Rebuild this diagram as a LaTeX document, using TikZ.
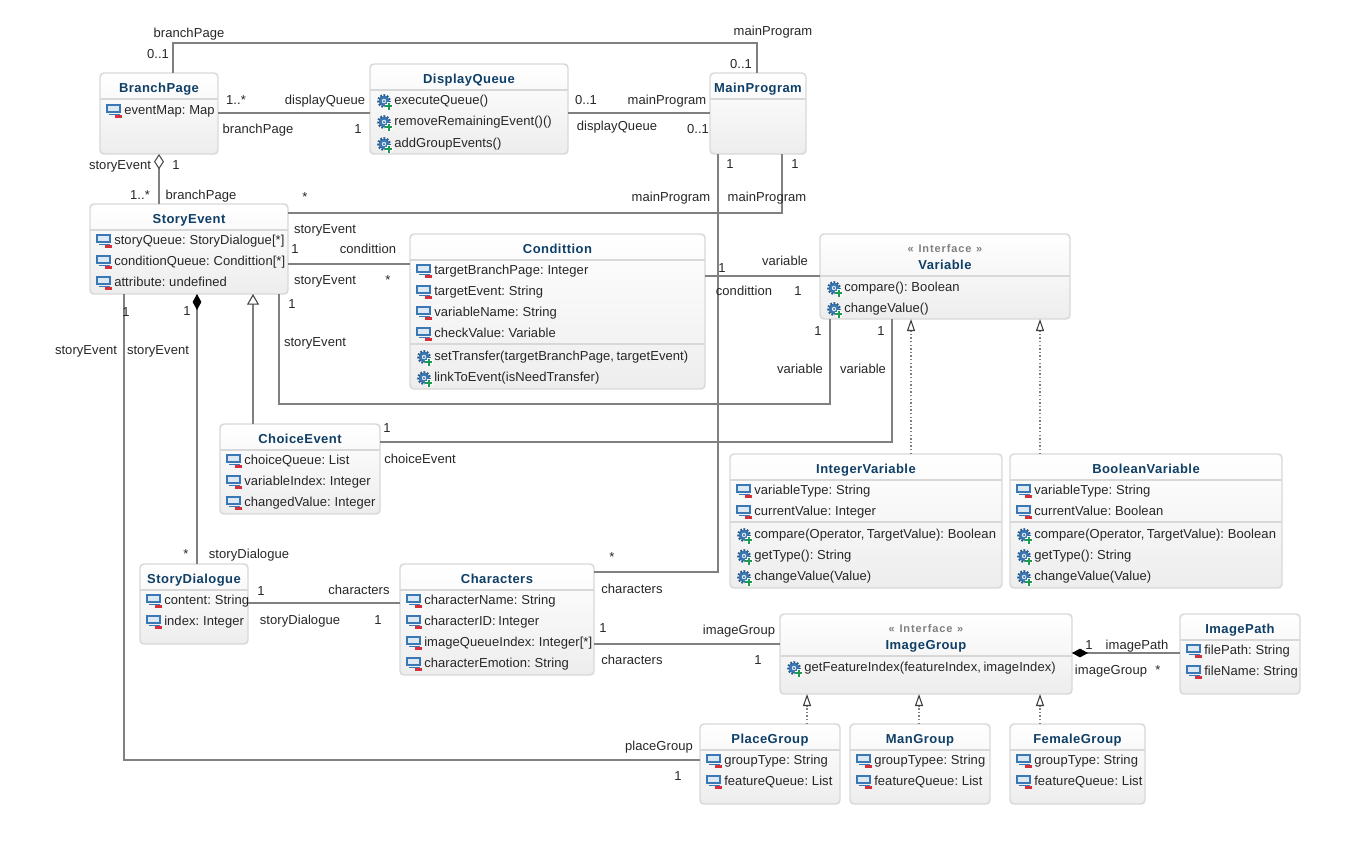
\documentclass[tikz,border=0pt]{standalone}
\usepackage{fontspec}
\setmainfont{Liberation Sans}[LetterSpace=0.5, WordSpace=0.7]
\usetikzlibrary{arrows.meta,calc}

\definecolor{boxline}{HTML}{D8D8D8}
\definecolor{boxlow}{HTML}{EDEDED}
\definecolor{wireline}{HTML}{808080}
\definecolor{titleblue}{HTML}{0F3F66}
\definecolor{iconblue}{HTML}{3A78B5}
\definecolor{iconpale}{HTML}{DCE9F5}
\definecolor{iconred}{HTML}{D8303A}
\definecolor{icongreen}{HTML}{1E9A50}

\tikzset{
    classbox/.style={draw=boxline, line width=1.1, rounded corners=3, top color=white, bottom color=boxlow, anchor=north west, inner sep=0, outer sep=0},
    classtitle/.style={font=\fontsize{9.75}{11}\selectfont\bfseries\addfontfeature{LetterSpace=3.5}, text=titleblue, anchor=base},
    stereotype/.style={font=\fontsize{8.25}{10}\selectfont\bfseries\addfontfeature{LetterSpace=8}, text=gray, anchor=base, yshift=-3.2pt},
    member/.style={font=\fontsize{9.75}{11}\selectfont, text=black!85, anchor=base west, inner sep=0, yshift=-3.2pt},
    lbl/.style={font=\fontsize{9.75}{11}\selectfont, text=black!85, anchor=base, inner sep=0, yshift=-3.4pt},
    divider/.style={draw=boxline, line width=1.1},
    wire/.style={draw=wireline, line width=1.5},
    realize/.style={draw=wireline, line width=0.9, dash pattern=on 1.1pt off 1.6pt},
    opendiamond/.tip={Diamond[fill=white, color=black!70, line width=0.8pt, length=11.5pt, width=7.5pt]},
    fulldiamond/.tip={Diamond[fill=black, color=black, line width=0.5pt, length=12pt, width=6.5pt]},
    bighead/.tip={Triangle[fill=white, color=black!75, line width=0.8pt, length=8pt, width=9pt]},
    thinhead/.tip={Triangle[fill=white, color=black!75, line width=0.8pt, length=9pt, width=6pt]},
    attricon/.pic={
        \draw[iconblue, line width=0.8, fill=iconpale] (-7,-5) rectangle (6,2);
        \draw[iconblue, line width=0.9] (-5,4.5) -- (6,4.5);
        \fill[iconred] (1,4.5) rectangle (8,7.5);
    },
    opicon/.pic={
        \fill[iconblue] (0,1) circle (5.5);
        \draw[iconblue!75!black, line width=1.5, dash pattern=on 1.3pt off 1.2pt] (0,1) circle (5.8);
        \fill[iconpale] (0,1) circle (2.2);
        \fill[iconblue!70!black] (0,1) circle (1);
        \draw[white, line width=3] (0.5,6) -- (8.5,6) (4.5,2) -- (4.5,10);
        \fill[icongreen] (1,5) rectangle (8,7);
        \fill[icongreen] (3.5,2.5) rectangle (5.5,9.5);
    }
}

% one class box with its title
\newcommand{\umlclass}[7][19]{
    \node[classbox, minimum width=#5*0.75pt, minimum height=#6*0.75pt] (#2) at (#3,#4) {};
    \node[classtitle] (#2Title) at ($(#2.north)+(0,#1)$) {#7};
}
\newcommand{\umlline}[2]{
    \draw[divider] (#1.west |- 0,#2) -- (#1.east |- 0,#2);
}
\newcommand{\umlattr}[5]{
    \pic at (#3-10,#4) {attricon};
    \node[member] (#1#2) at (#3,#4) {#5};
}
\newcommand{\umlop}[5]{
    \pic at (#3-10,#4) {opicon};
    \node[member] (#1#2) at (#3,#4) {#5};
}

\begin{document}
\begin{tikzpicture}[x=0.75pt, y=-0.75pt]
    \useasboundingbox (0,0) rectangle (1350,854);

    % class boxes
    \umlclass{branchPage}{100}{73}{118}{81}{BranchPage}
    \umlline{branchPage}{99}
    \umlattr{branchPage}{Map}{124}{110}{eventMap: Map}

    \umlclass{displayQueue}{370}{64}{198}{90}{DisplayQueue}
    \umlline{displayQueue}{90}
    \umlop{displayQueue}{Exec}{394}{100}{executeQueue()}
    \umlop{displayQueue}{Remove}{394}{121}{removeRemainingEvent()()}
    \umlop{displayQueue}{Add}{394}{143}{addGroupEvents()}

    \umlclass{mainProgram}{710}{73}{96}{81}{MainProgram}
    \umlline{mainProgram}{99}

    \umlclass{storyEvent}{90}{204}{198}{90}{StoryEvent}
    \umlline{storyEvent}{230}
    \umlattr{storyEvent}{Story}{114}{240}{storyQueue: StoryDialogue[*]}
    \umlattr{storyEvent}{Cond}{114}{261}{conditionQueue: Condittion[*]}
    \umlattr{storyEvent}{Attr}{114}{282}{attribute: undefined}

    \umlclass{condittion}{410}{234}{295}{155}{Condittion}
    \umlline{condittion}{260}
    \umlline{condittion}{344}
    \umlattr{condittion}{Page}{434}{270}{targetBranchPage: Integer}
    \umlattr{condittion}{Event}{434}{291}{targetEvent: String}
    \umlattr{condittion}{Name}{434}{312}{variableName: String}
    \umlattr{condittion}{Check}{434}{333}{checkValue: Variable}
    \umlop{condittion}{Set}{434}{356}{setTransfer(targetBranchPage, targetEvent)}
    \umlop{condittion}{Link}{434}{377}{linkToEvent(isNeedTransfer)}

    \umlclass[35]{variable}{820}{234}{250}{85}{Variable}
    \node[stereotype] (variableKind) at (945,248) {«\kern1.5pt{} Interface\kern1.5pt{} »};
    \umlline{variable}{276}
    \umlop{variable}{Compare}{844}{287}{compare(): Boolean}
    \umlop{variable}{Change}{844}{308}{changeValue()}

    \umlclass{choiceEvent}{220}{424}{160}{90}{ChoiceEvent}
    \umlline{choiceEvent}{450}
    \umlattr{choiceEvent}{Queue}{244}{460}{choiceQueue: List}
    \umlattr{choiceEvent}{Index}{244}{481}{variableIndex: Integer}
    \umlattr{choiceEvent}{Value}{244}{502}{changedValue: Integer}

    \umlclass{integerVar}{730}{454}{272}{134}{IntegerVariable}
    \umlline{integerVar}{480}
    \umlline{integerVar}{522}
    \umlattr{integerVar}{Type}{754}{490}{variableType: String}
    \umlattr{integerVar}{Value}{754}{511}{currentValue: Integer}
    \umlop{integerVar}{Compare}{754}{534}{compare(Operator, TargetValue): Boolean}
    \umlop{integerVar}{Get}{754}{555}{getType(): String}
    \umlop{integerVar}{Change}{754}{576}{changeValue(Value)}

    \umlclass{booleanVar}{1010}{454}{272}{134}{BooleanVariable}
    \umlline{booleanVar}{480}
    \umlline{booleanVar}{522}
    \umlattr{booleanVar}{Type}{1034}{490}{variableType: String}
    \umlattr{booleanVar}{Value}{1034}{511}{currentValue: Boolean}
    \umlop{booleanVar}{Compare}{1034}{534}{compare(Operator, TargetValue): Boolean}
    \umlop{booleanVar}{Get}{1034}{555}{getType(): String}
    \umlop{booleanVar}{Change}{1034}{576}{changeValue(Value)}

    \umlclass{storyDialogue}{140}{564}{108}{80}{StoryDialogue}
    \umlline{storyDialogue}{590}
    \umlattr{storyDialogue}{Content}{164}{600}{content: String}
    \umlattr{storyDialogue}{Index}{164}{621}{index: Integer}

    \umlclass{characters}{400}{564}{194}{111}{Characters}
    \umlline{characters}{590}
    \umlattr{characters}{Name}{424}{600}{characterName: String}
    \umlattr{characters}{Id}{424}{621}{characterID: Integer}
    \umlattr{characters}{Queue}{424}{642}{imageQueueIndex: Integer[*]}
    \umlattr{characters}{Emotion}{424}{663}{characterEmotion: String}

    \umlclass[35]{imageGroup}{780}{614}{292}{80}{ImageGroup}
    \node[stereotype] (imageGroupKind) at (926,628) {«\kern1.5pt{} Interface\kern1.5pt{} »};
    \umlline{imageGroup}{656}
    \umlop{imageGroup}{Get}{804}{667}{getFeatureIndex(featureIndex, imageIndex)}

    \umlclass{imagePath}{1180}{614}{120}{80}{ImagePath}
    \umlline{imagePath}{640}
    \umlattr{imagePath}{File}{1204}{650}{filePath: String}
    \umlattr{imagePath}{Name}{1204}{671}{fileName: String}

    \umlclass{placeGroup}{700}{724}{140}{80}{PlaceGroup}
    \umlline{placeGroup}{750}
    \umlattr{placeGroup}{Type}{724}{760}{groupType: String}
    \umlattr{placeGroup}{Queue}{724}{781}{featureQueue: List}

    \umlclass{manGroup}{850}{724}{140}{80}{ManGroup}
    \umlline{manGroup}{750}
    \umlattr{manGroup}{Type}{874}{760}{groupTypee: String}
    \umlattr{manGroup}{Queue}{874}{781}{featureQueue: List}

    \umlclass{femaleGroup}{1010}{724}{135}{80}{FemaleGroup}
    \umlline{femaleGroup}{750}
    \umlattr{femaleGroup}{Type}{1034}{760}{groupType: String}
    \umlattr{femaleGroup}{Queue}{1034}{781}{featureQueue: List}

    % associations
    \coordinate (topBend) at (757,43);
    \coordinate (lowBend) at (830,404);
    \draw[wire] (branchPage.north -| 173,0) |- (topBend) -- (mainProgram.north -| 757,0);
    \draw[wire] (branchPage.east |- 0,113) -- (displayQueue.west |- 0,113);
    \draw[wire] (displayQueue.east |- 0,113) -- (mainProgram.west |- 0,113);
    \draw[wire, {opendiamond}-] (branchPage.south -| 159,0) -- (storyEvent.north -| 159,0);
    \draw[wire] (storyEvent.east |- 0,213) -| (mainProgram.south -| 782,0);
    \draw[wire] (storyEvent.east |- 0,264) -- (condittion.west |- 0,264);
    \draw[wire] (condittion.east |- 0,276) -- (variable.west |- 0,276);
    \draw[wire] (mainProgram.south -| 718,0) |- (characters.east |- 0,572);
    \draw[wire] (storyEvent.south -| 279,0) |- (lowBend) -- (variable.south -| 830,0);
    \draw[wire] (choiceEvent.east |- 0,442) -| (variable.south -| 892,0);
    \draw[wire, {fulldiamond}-] (storyEvent.south -| 197,0) -- (storyDialogue.north -| 197,0);
    \draw[wire] (storyEvent.south -| 124,0) |- (placeGroup.west |- 0,760);
    \draw[wire, -{bighead}] (choiceEvent.north -| 253,0) -- (storyEvent.south -| 253,0);
    \draw[wire] (storyDialogue.east |- 0,603) -- (characters.west |- 0,603);
    \draw[wire] (characters.east |- 0,644) -- (imageGroup.west |- 0,644);
    \draw[wire, {fulldiamond}-] (imageGroup.east |- 0,653) -- (imagePath.west |- 0,653);

    % realizations
    \draw[realize, -{thinhead}] (integerVar.north -| 911,0) -- (variable.south -| 911,0);
    \draw[realize, -{thinhead}] (booleanVar.north -| 1040,0) -- (variable.south -| 1040,0);
    \draw[realize, -{thinhead}] (placeGroup.north -| 807,0) -- (imageGroup.south -| 807,0);
    \draw[realize, -{thinhead}] (manGroup.north -| 919,0) -- (imageGroup.south -| 919,0);
    \draw[realize, -{thinhead}] (femaleGroup.north -| 1040,0) -- (imageGroup.south -| 1040,0);

    % end labels
    \node[lbl] (l01) at (189,33) {branchPage};
    \node[lbl] (l02) at (158,54) {0..1};
    \node[lbl] (l03) at (773,31) {mainProgram};
    \node[lbl] (l04) at (741,64) {0..1};
    \node[lbl] (l05) at (236,100) {1..*};
    \node[lbl] (l06) at (325,100) {displayQueue};
    \node[lbl] (l07) at (258,129) {branchPage};
    \node[lbl] (l08) at (358,129) {1};
    \node[lbl] (l09) at (586,100) {0..1};
    \node[lbl] (l10) at (667,100) {mainProgram};
    \node[lbl] (l11) at (617,126) {displayQueue};
    \node[lbl] (l12) at (698,129) {0..1};
    \node[lbl] (l13) at (120,165) {storyEvent};
    \node[lbl] (l14) at (176,165) {1};
    \node[lbl] (l15) at (140,195) {1..*};
    \node[lbl] (l16) at (201,195) {branchPage};
    \node[lbl] (l17) at (305,197) {*};
    \node[lbl] (l18) at (325,229) {storyEvent};
    \node[lbl] (l19) at (295,249) {1};
    \node[lbl] (l20) at (368,249) {condittion};
    \node[lbl] (l21) at (325,280) {storyEvent};
    \node[lbl] (l22) at (388,280) {*};
    \node[lbl] (l23) at (671,197) {mainProgram};
    \node[lbl] (l24) at (767,197) {mainProgram};
    \node[lbl] (l25) at (730,164) {1};
    \node[lbl] (l26) at (795,164) {1};
    \node[lbl] (l27) at (722,268) {1};
    \node[lbl] (l28) at (785,261) {variable};
    \node[lbl] (l29) at (744,291) {condittion};
    \node[lbl] (l30) at (798,291) {1};
    \node[lbl] (l31) at (818,331) {1};
    \node[lbl] (l32) at (881,331) {1};
    \node[lbl] (l33) at (800,369) {variable};
    \node[lbl] (l34) at (863,369) {variable};
    \node[lbl] (l35) at (292,304) {1};
    \node[lbl] (l36) at (315,342) {storyEvent};
    \node[lbl] (l37) at (126,312) {1};
    \node[lbl] (l38) at (187,311) {1};
    \node[lbl] (l39) at (86,350) {storyEvent};
    \node[lbl] (l40) at (158,350) {storyEvent};
    \node[lbl] (l41) at (387,428) {1};
    \node[lbl] (l42) at (420,459) {choiceEvent};
    \node[lbl] (l43) at (186,554) {*};
    \node[lbl] (l44) at (249,554) {storyDialogue};
    \node[lbl] (l45) at (261,591) {1};
    \node[lbl] (l46) at (359,590) {characters};
    \node[lbl] (l47) at (300,620) {storyDialogue};
    \node[lbl] (l48) at (378,620) {1};
    \node[lbl] (l49) at (612,557) {*};
    \node[lbl] (l50) at (632,589) {characters};
    \node[lbl] (l51) at (603,628) {1};
    \node[lbl] (l52) at (739,630) {imageGroup};
    \node[lbl] (l53) at (632,660) {characters};
    \node[lbl] (l54) at (758,660) {1};
    \node[lbl] (l55) at (1089,645) {1};
    \node[lbl] (l56) at (1137,645) {imagePath};
    \node[lbl] (l57) at (1111,670) {imageGroup};
    \node[lbl] (l58) at (1158,670) {*};
    \node[lbl] (l59) at (659,746) {placeGroup};
    \node[lbl] (l60) at (678,776) {1};
\end{tikzpicture}
\end{document}
